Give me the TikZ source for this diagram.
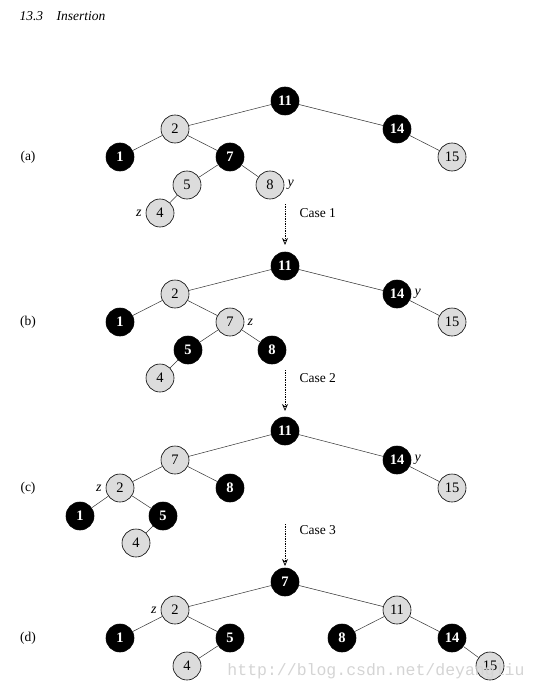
\documentclass[tikz,border=0pt]{standalone}
\usepackage{fontspec}
\setmainfont{Liberation Serif}
\setmonofont{Liberation Mono}
\usepackage{xcolor}
\usetikzlibrary{arrows.meta,positioning}
\definecolor{NodeGray}{HTML}{DCDCDC}
\definecolor{MarkGray}{HTML}{D4D4D4}

\begin{document}
\begin{tikzpicture}[
      x=1pt,y=-1pt,
      font=\fontsize{13.5}{15}\selectfont,
      rd/.style={circle,draw=black,fill=NodeGray,line width=0.6pt,minimum size=28pt,inner sep=0pt,font=\fontsize{14.5}{16}\selectfont},
      bk/.style={circle,draw=black,fill=black,text=white,font=\fontsize{14.5}{16}\selectfont\bfseries,line width=0.6pt,minimum size=28pt,inner sep=0pt},
      ed/.style={line width=0.5pt,draw=black!80},
      lb/.style={font=\fontsize{14}{16}\selectfont\itshape,inner sep=1pt},
      cs/.style={draw=black,line width=0.7pt,densely dotted,-{Stealth[length=7pt,width=6pt,open]}}
    ]
      \useasboundingbox (0,0) rectangle (539,695);
      \node[font=\fontsize{13.5}{15}\selectfont\itshape,anchor=west] (hd) at (16,16) {13.3\quad Insertion};

      % (a)
      \node (la) at (28,157) {(a)};
      \node[bk] (a11) at (285,101) {11};
      \node[rd] (a2) at (175,129) {2};
      \node[bk] (a14) at (397,129) {14};
      \node[bk] (a1) at (120,157) {1};
      \node[bk] (a7) at (230,157) {7};
      \node[rd] (a15) at (452,157) {15};
      \node[rd] (a5) at (187,185) {5};
      \node[rd] (a8) at (270,185) {8};
      \node[rd] (a4) at (160,213) {4};
      \node[lb,right=2pt of a8] (ay) {y};
      \node[lb,left=3pt of a4] (az) {z};
      \draw[ed] (a11) -- (a2) (a11) -- (a14) (a2) -- (a1) (a2) -- (a7)
        (a14) -- (a15) (a7) -- (a5) (a7) -- (a8) (a5) -- (a4);

      \coordinate (c1s) at (285,204);
      \coordinate (c1e) at (285,245);
      \draw[cs] (c1s) -- (c1e);
      \node[anchor=west] (c1) at (296,213) {Case 1};

      % (b)
      \node (lb) at (28,322) {(b)};
      \node[bk] (b11) at (285,266) {11};
      \node[rd] (b2) at (175,294) {2};
      \node[bk] (b14) at (397,294) {14};
      \node[bk] (b1) at (120,322) {1};
      \node[rd] (b7) at (230,322) {7};
      \node[rd] (b15) at (452,322) {15};
      \node[bk] (b5) at (188,350) {5};
      \node[bk] (b8) at (272,350) {8};
      \node[rd] (b4) at (160,378) {4};
      \node[lb,right=2pt of b14] (by) {y};
      \node[lb,right=2pt of b7] (bz) {z};
      \draw[ed] (b11) -- (b2) (b11) -- (b14) (b2) -- (b1) (b2) -- (b7)
        (b14) -- (b15) (b7) -- (b5) (b7) -- (b8) (b5) -- (b4);

      \coordinate (c2s) at (285,370);
      \coordinate (c2e) at (285,411);
      \draw[cs] (c2s) -- (c2e);
      \node[anchor=west] (c2) at (296,378) {Case 2};

      % (c)
      \node (lc) at (28,488) {(c)};
      \node[bk] (c11) at (285,431) {11};
      \node[rd] (c7) at (175,460) {7};
      \node[bk] (c14) at (397,460) {14};
      \node[rd] (c2) at (120,488) {2};
      \node[bk] (c8) at (230,488) {8};
      \node[rd] (c15) at (452,488) {15};
      \node[bk] (c1) at (80,516) {1};
      \node[bk] (c5) at (163,516) {5};
      \node[rd] (c4) at (136,543) {4};
      \node[lb,right=2pt of c14] (cy) {y};
      \node[lb,left=3pt of c2] (cz) {z};
      \draw[ed] (c11) -- (c7) (c11) -- (c14) (c7) -- (c2) (c7) -- (c8)
        (c14) -- (c15) (c2) -- (c1) (c2) -- (c5) (c5) -- (c4);

      \coordinate (c3s) at (285,524);
      \coordinate (c3e) at (285,566);
      \draw[cs] (c3s) -- (c3e);
      \node[anchor=west] (c3) at (296,530) {Case 3};

      % (d)
      \node (ld) at (28,638) {(d)};
      \node[bk] (d7) at (285,582) {7};
      \node[rd] (d2) at (175,610) {2};
      \node[rd] (d11) at (397,610) {11};
      \node[bk] (d1) at (120,638) {1};
      \node[bk] (d5) at (230,638) {5};
      \node[bk] (d8) at (342,638) {8};
      \node[bk] (d14) at (452,638) {14};
      \node[rd] (d4) at (187,666) {4};
      \node[rd] (d15) at (490,666) {15};
      \node[lb,left=3pt of d2] (dz) {z};
      \draw[ed] (d7) -- (d2) (d7) -- (d11) (d2) -- (d1) (d2) -- (d5)
        (d11) -- (d8) (d11) -- (d14) (d5) -- (d4) (d14) -- (d15);

      \node[font=\fontsize{16.5}{18}\selectfont\ttfamily,text=MarkGray] (wm) at (376,671) {http://blog.csdn.net/deyangliu};
    \end{tikzpicture}
\end{document}
